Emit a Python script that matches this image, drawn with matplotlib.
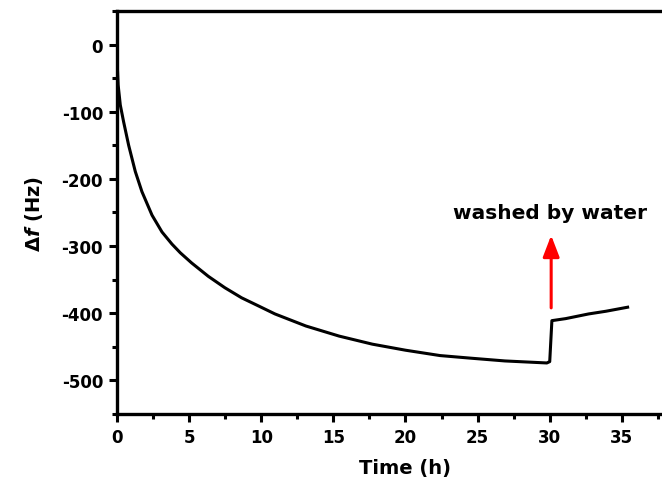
import matplotlib
matplotlib.use('Agg')
import matplotlib.pyplot as plt
from matplotlib.ticker import MultipleLocator, FixedLocator

plt.rcParams['font.family'] = ['DejaVu Sans']
plt.rcParams['font.weight'] = 'bold'
plt.rcParams['axes.unicode_minus'] = False
plt.rcParams['mathtext.fontset'] = 'custom'
plt.rcParams['mathtext.rm'] = 'DejaVu Sans:bold'
plt.rcParams['mathtext.it'] = 'DejaVu Sans:italic'

# frequency shift
t_h = [0.0, 0.08, 0.23, 0.46, 0.81, 1.27, 1.73, 2.43, 3.12, 3.81, 4.39,
       5.17, 6.33, 7.48, 8.64, 9.8, 10.95, 13.1, 15.4, 17.7, 20.0, 22.4,
       24.6, 26.9, 29.8, 30.0, 30.15, 31.1, 32.7, 33.9, 35.4]
df_hz = [-20, -60, -90, -115, -150, -189, -219, -254, -279, -297, -310,
         -325, -345, -362, -377, -389, -401, -419, -434, -446, -455, -463,
         -467, -471, -474, -472, -411, -408, -401, -397, -391]

arrow_x = 30.1
arrow_from = -392
arrow_to = -284
note = 'washed by water'

fig = plt.figure(figsize=(6.62, 4.89), dpi=100)
ax = fig.add_axes([0.1767, 0.1513, 0.8716, 0.8242])

ax.plot(t_h, df_hz, color='black', lw=2.2, solid_joinstyle='round')
ax.annotate('', xy=(arrow_x, arrow_to), xytext=(arrow_x, arrow_from),
            arrowprops=dict(arrowstyle='-|>,head_width=0.5,head_length=1.3',
                            color='red', lw=2.2, shrinkA=0, shrinkB=0))
ax.text(30.0, -250, note, ha='center', va='center', fontsize=14.5, fontweight='bold')

ax.set_xlim(0, 40)
ax.set_ylim(-550, 50)
ax.xaxis.set_major_locator(FixedLocator([0, 5, 10, 15, 20, 25, 30, 35]))
ax.xaxis.set_minor_locator(MultipleLocator(2.5))
ax.yaxis.set_major_locator(MultipleLocator(100))
ax.yaxis.set_minor_locator(MultipleLocator(50))

for s in ax.spines.values():
    s.set_linewidth(2.4)
ax.tick_params(which='major', direction='out', length=6, width=2.2, labelsize=12, pad=4)
ax.tick_params(which='minor', direction='out', length=3.5, width=2.2)
for lab in ax.get_xticklabels() + ax.get_yticklabels():
    lab.set_fontweight('bold')

ax.set_xlabel('Time (h)', fontsize=14, fontweight='bold', labelpad=9)
ax.set_ylabel(r'$\Delta\mathit{f}$ (Hz)', fontsize=14, fontweight='bold', labelpad=12)

fig.savefig('out.png', dpi=100)
